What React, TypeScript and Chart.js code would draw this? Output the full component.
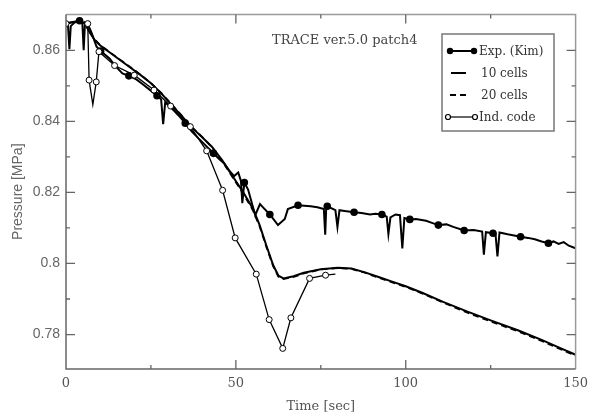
import React, { useEffect, useRef } from 'react';
import { Chart, registerables } from 'chart.js';

Chart.register(...registerables);

// ---- Data ----
const expTime = [
  0, 0.6, 1.0, 1.4, 2.5, 4, 4.8, 5.2, 5.6, 6.5, 7.5, 9, 10.2, 12.8, 14.5, 16.6, 18.5, 20.7, 22.5, 24.5,
  26.8, 28.0, 28.6, 29.2, 31, 33, 35.1, 37, 39, 41, 43.4, 45, 46.5, 48, 49.5, 50.7, 51.5, 51.9, 52.5,
  53.6, 55.7, 57.1, 58.0, 60.0, 62.4, 64.4, 65.3, 68.3, 72.0, 74.0, 75.9, 76.3, 76.6, 76.9, 79.3, 79.9,
  80.5, 82.0, 84.8, 87.0, 89.5, 91.0, 93.0, 94.4, 94.9, 95.5, 97.0, 98.3, 99.0, 99.6, 101.2, 103, 106,
  107.5, 109.6, 112, 114, 117.2, 120, 122.5, 123, 123.6, 125.7, 126.4, 127, 127.6, 130, 133.8, 136, 138,
  140, 142, 143.5, 145, 146.5, 148, 150,
];
const expPressure = [
  0.8672, 0.8668, 0.8603, 0.8668, 0.8678, 0.8683, 0.868, 0.86, 0.8678, 0.8672, 0.865, 0.861, 0.8598,
  0.8577, 0.8556, 0.8535, 0.8528, 0.8518, 0.8505, 0.849, 0.8472, 0.8462, 0.8392, 0.8453, 0.8438, 0.8418,
  0.8395, 0.8372, 0.8352, 0.8333, 0.831, 0.8295, 0.8282, 0.8262, 0.8246, 0.8256, 0.8232, 0.817, 0.8228,
  0.8208, 0.8136, 0.8167, 0.8158, 0.8138, 0.8108, 0.8125, 0.8153, 0.8164, 0.8161, 0.8158, 0.8153, 0.8081,
  0.8158, 0.8161, 0.815, 0.8103, 0.815, 0.8148, 0.8144, 0.8142, 0.8138, 0.814, 0.8138, 0.8132, 0.8083,
  0.813, 0.8138, 0.8136, 0.8042, 0.8128, 0.8124, 0.8125, 0.812, 0.8115, 0.8108, 0.811, 0.8103, 0.8093,
  0.8094, 0.809, 0.8025, 0.8088, 0.8085, 0.8085, 0.802, 0.8087, 0.8082, 0.8075, 0.8072, 0.8068, 0.8062,
  0.8057, 0.8062, 0.8055, 0.806, 0.805, 0.8043,
];
const expMarkerTime = [4, 10.2, 18.5, 26.8, 35.1, 43.4, 52.5, 60.0, 68.3, 76.9, 84.8, 93.0, 101.2, 109.6, 117.2, 125.7, 133.8, 142];

const cells10Time = [
  0, 2, 4, 5.5, 7, 8.5, 10, 13, 16, 19, 22, 25, 28, 31, 34, 37, 40, 43, 46, 49, 52, 55, 57, 59, 61, 62.5,
  64, 67, 70, 75, 80, 84, 88, 92, 96, 100, 105, 111, 118, 125, 133, 140, 145, 150,
];
const cells10Pressure = [
  0.8675, 0.868, 0.8683, 0.8676, 0.865, 0.8628, 0.8614, 0.8593, 0.8572, 0.8551, 0.853, 0.8507, 0.8479,
  0.8447, 0.8416, 0.8383, 0.8356, 0.8328, 0.829, 0.8246, 0.8203, 0.8155, 0.8108, 0.805, 0.7995, 0.7966,
  0.7958, 0.7964, 0.7974, 0.7984, 0.7988, 0.7986, 0.7975, 0.7962, 0.7949, 0.7936, 0.7917, 0.7892, 0.7865,
  0.784, 0.7812, 0.7785, 0.7764, 0.7743,
];

const cells20Time = [
  0, 2, 4, 5.5, 7, 8.5, 10, 13, 16, 19, 22, 25, 28, 31, 34, 37, 40, 43, 46, 49, 52, 55, 57, 59, 61, 62.5,
  64, 67, 70, 75, 80, 84, 88, 92, 96, 100, 105, 111, 118, 125, 133, 140, 145, 150,
];
const cells20Pressure = [
  0.8675, 0.868, 0.8683, 0.8676, 0.8652, 0.863, 0.8615, 0.8594, 0.8573, 0.8552, 0.8531, 0.8508, 0.848,
  0.8449, 0.8417, 0.8384, 0.8357, 0.8327, 0.8288, 0.8243, 0.8199, 0.815, 0.8104, 0.8046, 0.7992, 0.7963,
  0.7956, 0.7962, 0.7972, 0.7983, 0.7987, 0.7985, 0.7974, 0.796, 0.7947, 0.7934, 0.7915, 0.789, 0.7862,
  0.7837, 0.7809, 0.7782, 0.7761, 0.774,
];

const indTime = [0, 2, 4, 6.4, 6.8, 7.9, 8.9, 9.7, 14.3, 20.1, 25.9, 30.8, 36.6, 41.4, 46.1, 49.8, 56, 59.8, 63.8, 66.2, 71.7, 76.4, 79.3];
const indPressure = [
  0.8675, 0.8678, 0.868, 0.8675, 0.8516, 0.8447, 0.8511, 0.8596, 0.8557, 0.853, 0.8488, 0.8443, 0.8385,
  0.8317, 0.8206, 0.8072, 0.797, 0.7842, 0.7761, 0.7847, 0.7958, 0.7967, 0.797,
];
const indMarkerTime = [0, 6.4, 6.8, 8.9, 9.7, 14.3, 20.1, 25.9, 30.8, 36.6, 41.4, 46.1, 49.8, 56, 59.8, 63.8, 66.2, 71.7, 76.4];

const xTickValues = [0, 50, 100, 150];
const xMinorTicks = [25, 75, 125];
const yTickValues = [0.78, 0.8, 0.82, 0.84, 0.86];
const yMinorTicks = [0.79, 0.81, 0.83, 0.85];

const seriesLabels = ['Exp. (Kim)', '10 cells', '20 cells', 'Ind. code'];
const annotationText = 'TRACE ver.5.0 patch4';
const xTitle = 'Time [sec]';
const yTitle = 'Pressure [MPa]';

const SERIF = '"DejaVu Serif", serif';
const SANS = '"Liberation Sans", Arial, sans-serif';

const toPoints = (xs: number[], ys: number[]) => xs.map((x, i) => ({ x, y: ys[i] }));

const framePlugin = {
  id: 'framePlugin',
  afterDatasetsDraw(chart: any) {
    const { ctx, chartArea, scales } = chart;
    const { left, right, top, bottom } = chartArea;
    const xs = scales.x;
    const ys = scales.y;
    ctx.save();
    // frame
    ctx.lineWidth = 1.5;
    ctx.strokeStyle = '#9a9a9a';
    ctx.beginPath();
    ctx.moveTo(left, top);
    ctx.lineTo(right, top);
    ctx.lineTo(right, bottom);
    ctx.stroke();
    ctx.strokeStyle = '#666';
    ctx.beginPath();
    ctx.moveTo(left, top);
    ctx.lineTo(left, bottom);
    ctx.lineTo(right, bottom);
    ctx.stroke();

    // ticks (inside)
    ctx.lineWidth = 1.3;
    const tickX = (v: number, len: number) => {
      const px = xs.getPixelForValue(v);
      ctx.beginPath();
      ctx.moveTo(px, bottom);
      ctx.lineTo(px, bottom - len);
      ctx.moveTo(px, top);
      ctx.lineTo(px, top + len);
      ctx.stroke();
    };
    const tickY = (v: number, len: number) => {
      const py = ys.getPixelForValue(v);
      ctx.beginPath();
      ctx.moveTo(left, py);
      ctx.lineTo(left + len, py);
      ctx.moveTo(right, py);
      ctx.lineTo(right - len, py);
      ctx.stroke();
    };
    ctx.strokeStyle = '#666';
    xTickValues.forEach((v) => { if (v > 0 && v < 150) tickX(v, 9); });
    xMinorTicks.forEach((v) => tickX(v, 4));
    yTickValues.forEach((v) => tickY(v, 9));
    yMinorTicks.forEach((v) => tickY(v, 4));

    // annotation
    ctx.fillStyle = '#444';
    ctx.font = '13px ' + SERIF;
    ctx.textBaseline = 'middle';
    ctx.textAlign = 'left';
    ctx.fillText(annotationText, 272, 41);

    // axis titles
    ctx.fillStyle = '#555';
    ctx.font = '13px ' + SERIF;
    ctx.textAlign = 'center';
    ctx.fillText(xTitle, (left + right) / 2, 407);
    ctx.save();
    ctx.translate(18, (top + bottom) / 2);
    ctx.rotate(-Math.PI / 2);
    ctx.fillStyle = '#666';
    ctx.font = '14px ' + SANS;
    ctx.fillText(yTitle, 0, 0);
    ctx.restore();

    // legend
    const bx = 442, by = 34, bw = 112, bh = 97;
    ctx.fillStyle = '#fff';
    ctx.fillRect(bx, by, bw, bh);
    ctx.strokeStyle = '#777';
    ctx.lineWidth = 1.5;
    ctx.strokeRect(bx, by, bw, bh);
    const rows = [51, 73, 95, 117];
    ctx.strokeStyle = '#000';
    ctx.fillStyle = '#000';
    // exp
    ctx.lineWidth = 2;
    ctx.beginPath(); ctx.moveTo(450, rows[0]); ctx.lineTo(474, rows[0]); ctx.stroke();
    [450, 474].forEach((cx) => { ctx.beginPath(); ctx.arc(cx, rows[0], 3.2, 0, Math.PI * 2); ctx.fill(); });
    // 10 cells
    ctx.beginPath(); ctx.moveTo(451, rows[1]); ctx.lineTo(466, rows[1]); ctx.stroke();
    // 20 cells
    ctx.setLineDash([6, 4]);
    ctx.beginPath(); ctx.moveTo(450, rows[2]); ctx.lineTo(466, rows[2]); ctx.stroke();
    ctx.setLineDash([]);
    // ind code
    ctx.lineWidth = 1.2;
    ctx.beginPath(); ctx.moveTo(448, rows[3]); ctx.lineTo(475, rows[3]); ctx.stroke();
    [448, 475].forEach((cx) => {
      ctx.beginPath(); ctx.arc(cx, rows[3], 2.5, 0, Math.PI * 2);
      ctx.fillStyle = '#fff'; ctx.fill(); ctx.stroke();
    });
    ctx.fillStyle = '#333';
    ctx.font = '12px ' + SERIF;
    ctx.textAlign = 'left';
    const textX = [479, 481, 481, 479];
    seriesLabels.forEach((s, i) => ctx.fillText(s, textX[i], rows[i] + 1));
    ctx.restore();
  },
};

export default function App() {
  const canvasRef = useRef<HTMLCanvasElement>(null);
  useEffect(() => {
    document.body.style.margin = '0';
    const expMarkers = new Set(expMarkerTime);
    const indMarkers = new Set(indMarkerTime);
    const chart = new Chart(canvasRef.current as HTMLCanvasElement, {
      type: 'scatter',
      data: {
        datasets: [
          {
            label: seriesLabels[3],
            data: toPoints(indTime, indPressure),
            showLine: true,
            borderColor: '#000',
            borderWidth: 1.3,
            pointRadius: (c: any) => (indMarkers.has(indTime[c.dataIndex]) ? 3 : 0),
            pointBackgroundColor: '#fff',
            pointBorderColor: '#000',
            pointBorderWidth: 1,
            order: 0,
          },
          {
            label: seriesLabels[0],
            data: toPoints(expTime, expPressure),
            showLine: true,
            borderColor: '#000',
            borderWidth: 2,
            pointRadius: (c: any) => (expMarkers.has(expTime[c.dataIndex]) ? 2.8 : 0),
            pointBackgroundColor: '#000',
            pointBorderColor: '#000',
            order: 1,
          },
          {
            label: seriesLabels[1],
            data: toPoints(cells10Time, cells10Pressure),
            showLine: true,
            borderColor: '#000',
            borderWidth: 2,
            pointRadius: 0,
            order: 2,
          },
          {
            label: seriesLabels[2],
            data: toPoints(cells20Time, cells20Pressure),
            showLine: true,
            borderColor: '#000',
            borderWidth: 1.8,
            borderDash: [6, 4],
            pointRadius: 0,
            order: 3,
          },
        ],
      },
      options: {
        animation: false,
        responsive: true,
        maintainAspectRatio: false,
        layout: { padding: { top: 9, right: 14, left: 0, bottom: 0 } },
        plugins: { legend: { display: false }, tooltip: { enabled: false } },
        scales: {
          x: {
            type: 'linear',
            min: 0,
            max: 150,
            afterBuildTicks: (s: any) => { s.ticks = xTickValues.map((v) => ({ value: v })); },
            afterFit: (s: any) => { s.height = 49; },
            ticks: {
              font: { family: SERIF, size: 13 },
              color: '#555',
              padding: 7,
              maxRotation: 0,
              autoSkip: false,
            },
            grid: { display: false, drawTicks: false },
            border: { display: false },
          },
          y: {
            type: 'linear',
            min: 0.7703,
            max: 0.8701,
            afterBuildTicks: (s: any) => { s.ticks = yTickValues.map((v) => ({ value: v })); },
            afterFit: (s: any) => { s.width = 66; },
            ticks: {
              font: { family: SANS, size: 14 },
              color: '#666',
              padding: 6,
              callback: (v: any) => String(v),
            },
            grid: { display: false, drawTicks: false },
            border: { display: false },
          },
        },
      },
      plugins: [framePlugin],
    } as any);
    return () => chart.destroy();
  }, []);
  return (
    <div style={{ width: 595, height: 418, position: 'relative', background: '#fff' }}>
      <canvas ref={canvasRef} />
    </div>
  );
}
